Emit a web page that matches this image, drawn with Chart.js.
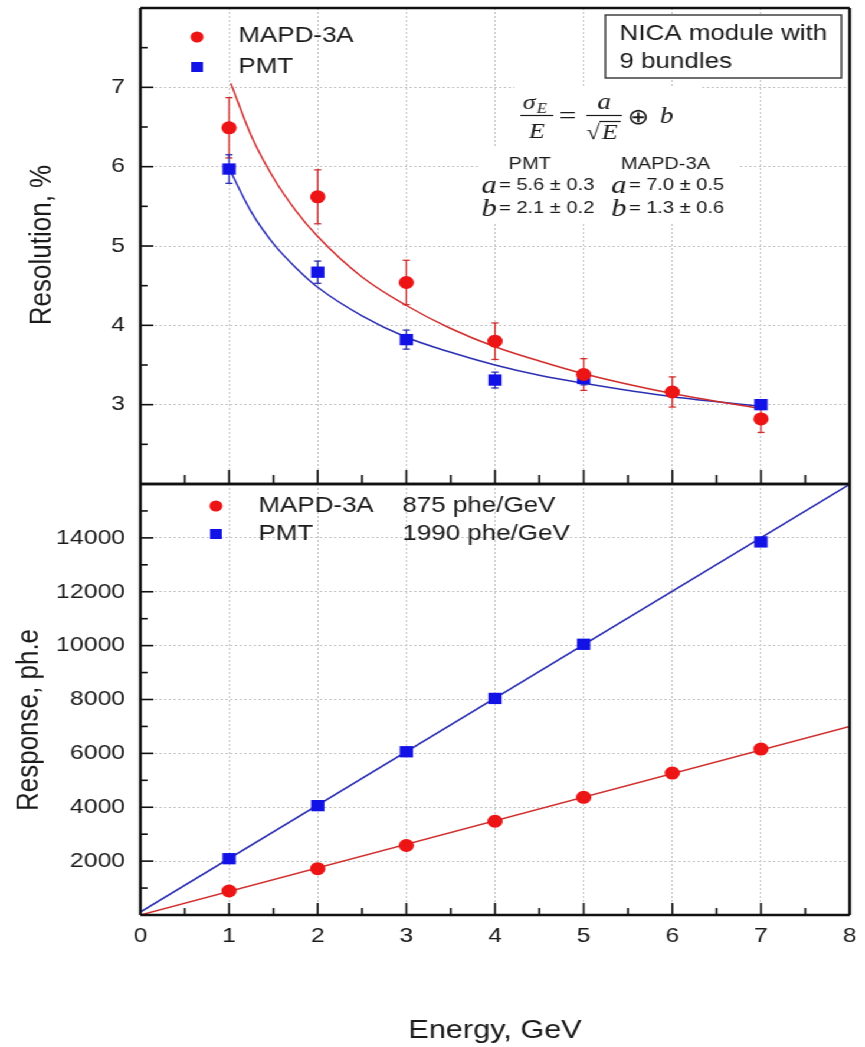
<!DOCTYPE html>
<html>
<head>
<meta charset="utf-8">
<script src="https://cdn.jsdelivr.net/npm/chart.js@4/dist/chart.umd.min.js"></script>
<style>
  html, body { margin: 0; padding: 0; background: #fff; }
  /* the source picture is stretched sideways, so the charts are too */
  #wrap { position: absolute; left: 0; top: 0; width: 733px; height: 1047px; transform: scaleX(1.18); transform-origin: 0 0; }
  canvas { position: absolute; left: 0; }
</style>
</head>
<body>
<div id="wrap">
  <canvas id="resChart" width="733" height="492" style="top:0"></canvas>
  <canvas id="respChart" width="733" height="571" style="top:476px"></canvas>
</div>
<script>
// Energy, GeV
const energy = [1, 2, 3, 4, 5, 6, 7];
const pmtEnergy = [1, 2, 3, 4, 5, 7];

// Resolution, %
const mapdRes = [6.49, 5.62, 4.54, 3.80, 3.38, 3.16, 2.82];
const mapdResErr = [0.38, 0.34, 0.28, 0.23, 0.20, 0.19, 0.17];
const pmtRes = [5.97, 4.67, 3.82, 3.31, 3.33, 3.00];
const pmtResErr = [0.18, 0.14, 0.12, 0.10, 0.08, 0.05];

// fit curves
const mapdFitE = [1.02, 1.25, 1.5, 1.75, 2, 2.5, 3, 3.5, 4, 4.5, 5, 6, 7];
const mapdFitRes = [7.05, 6.39, 5.86, 5.45, 5.12, 4.61, 4.25, 3.96, 3.73, 3.55, 3.39, 3.14, 2.95];
const pmtFitE = [1, 1.25, 1.5, 1.75, 2, 2.5, 3, 3.5, 4, 4.5, 5, 6, 7];
const pmtFitRes = [5.98, 5.43, 5.03, 4.73, 4.48, 4.12, 3.85, 3.66, 3.50, 3.37, 3.27, 3.10, 2.98];

// Response, ph.e
const mapdResp = [890, 1720, 2580, 3480, 4370, 5270, 6160];
const pmtResp = [2090, 4060, 6060, 8040, 10050, 13850];
const respFitE = [0, 8];
const mapdRespFit = [0, 7000];
const pmtRespFit = [110, 15990];

// ticks
const xTicks = [0, 1, 2, 3, 4, 5, 6, 7, 8];
const xMinor = [0.5, 1.5, 2.5, 3.5, 4.5, 5.5, 6.5, 7.5];
const resTicks = [3, 4, 5, 6, 7];
const resMinor = [2.5, 3.5, 4.5, 5.5, 6.5, 7.5];
const respTicks = [2000, 4000, 6000, 8000, 10000, 12000, 14000];
const respMinor = [1000, 3000, 5000, 7000, 9000, 11000, 13000, 15000];

const FONT = '"Liberation Sans", Arial, sans-serif';
const SERIF = '"Liberation Serif", "DejaVu Serif", serif';
const RED = '#ec1414';
const BLUE = '#1212e6';
const RED_FIT = '#d02c2c';
const BLUE_FIT = '#2a2eb0';

function pts(xs, ys) {
    return xs.map((v, i) => ({ x: v, y: ys[i] }));
}

function xScale(labels) {
    return {
        type: 'linear', min: 0, max: 8,
        afterBuildTicks: s => { s.ticks = xTicks.map(v => ({ value: v })); },
        afterFit: s => { s.height = labels ? 132 : 0; s.paddingLeft = 0; s.paddingRight = 0; },
        grid: { color: '#c4c4c4', drawTicks: false },
        border: { display: false, dash: [2, 2] },
        ticks: {
            display: labels, autoSkip: false, maxRotation: 0, padding: 9,
            color: '#1a1a1a', font: { family: FONT, size: 21 },
            callback: v => String(v)
        },
        title: {
            display: labels, text: 'Energy, GeV', color: '#1a1a1a',
            font: { family: FONT, size: 26 }, padding: { top: 0, bottom: 1 }
        }
    };
}

function yScale(min, max, ticks) {
    return {
        type: 'linear', min: min, max: max,
        afterBuildTicks: s => { s.ticks = ticks.map(v => ({ value: v })); },
        afterFit: s => { s.width = 119; s.paddingTop = 0; s.paddingBottom = 0; },
        grid: { color: '#c4c4c4', drawTicks: false },
        border: { display: false, dash: [2, 2] },
        ticks: {
            padding: 13, color: '#1a1a1a', font: { family: FONT, size: 21 },
            callback: v => String(v)
        }
    };
}

function line(ctx, x1, y1, x2, y2) {
    ctx.beginPath();
    ctx.moveTo(x1, y1);
    ctx.lineTo(x2, y2);
    ctx.stroke();
}

// black box round the plot with ticks pointing inwards
function framePlugin(yMajor, yMinor, xLen, yLen) {
    return {
        id: 'frame',
        afterDraw(chart) {
            const { ctx, chartArea: a, scales: { x, y } } = chart;
            ctx.save();
            ctx.setLineDash([]);
            ctx.strokeStyle = '#111';
            ctx.lineWidth = 1.6;
            xTicks.forEach(v => { const p = x.getPixelForValue(v); line(ctx, p, a.bottom, p, a.bottom - xLen[0]); });
            xMinor.forEach(v => { const p = x.getPixelForValue(v); line(ctx, p, a.bottom, p, a.bottom - xLen[1]); });
            yMajor.forEach(v => { const p = y.getPixelForValue(v); line(ctx, a.left, p, a.left + yLen[0], p); });
            yMinor.forEach(v => { const p = y.getPixelForValue(v); line(ctx, a.left, p, a.left + yLen[1], p); });
            ctx.lineWidth = 2.4;
            line(ctx, a.left, a.top, a.right, a.top);
            line(ctx, a.right, a.top, a.right, a.bottom);
            line(ctx, a.right, a.bottom, a.left, a.bottom);
            line(ctx, a.left, a.bottom, a.left, a.top);
            ctx.restore();
        }
    };
}

function marker(ctx, kind, cx, cy, r, color) {
    ctx.fillStyle = color;
    ctx.beginPath();
    if (kind === 'circle') ctx.arc(cx, cy, r, 0, Math.PI * 2);
    else ctx.rect(cx - r, cy - r, 2 * r, 2 * r);
    ctx.fill();
}

function text(ctx, str, x, y, font, align) {
    ctx.font = font;
    ctx.textAlign = align || 'left';
    ctx.textBaseline = 'middle';
    ctx.fillText(str, x, y);
}

function sideTitle(ctx, str, x, y) {
    ctx.save();
    ctx.translate(x, y);
    ctx.rotate(-Math.PI / 2);
    ctx.fillStyle = '#1a1a1a';
    text(ctx, str, 0, 0, '26px ' + FONT, 'center');
    ctx.restore();
}

// error bars + white patches behind the formula
const resExtras = {
    id: 'resExtras',
    beforeDatasetsDraw(chart) {
        const { ctx, scales: { x, y } } = chart;
        ctx.save();
        ctx.setLineDash([]);
        ctx.fillStyle = '#fff';
        ctx.fillRect(436, 87, 157, 60);
        ctx.fillRect(405, 147, 220, 75);
        const sets = [
            [energy, mapdRes, mapdResErr, RED_FIT],
            [pmtEnergy, pmtRes, pmtResErr, BLUE_FIT]
        ];
        ctx.lineWidth = 1.3;
        sets.forEach(([xs, ys, es, col]) => {
            ctx.strokeStyle = col;
            xs.forEach((v, i) => {
                const px = x.getPixelForValue(v);
                const top = y.getPixelForValue(ys[i] + es[i]);
                const bot = y.getPixelForValue(ys[i] - es[i]);
                line(ctx, px, top, px, bot);
                line(ctx, px - 3, top, px + 3, top);
                line(ctx, px - 3, bot, px + 3, bot);
            });
        });
        ctx.restore();
    },
    afterDraw(chart) {
        const ctx = chart.ctx;
        ctx.save();
        ctx.setLineDash([]);
        ctx.fillStyle = '#1a1a1a';
        sideTitle(ctx, 'Resolution, %', 36, 245);

        // legend
        marker(ctx, 'circle', 167, 37, 5.5, RED);
        marker(ctx, 'rect', 167, 67, 5, BLUE);
        ctx.fillStyle = '#1a1a1a';
        text(ctx, 'MAPD-3A', 202, 36, '22px ' + FONT);
        text(ctx, 'PMT', 202, 67, '22px ' + FONT);

        // NICA box
        ctx.fillStyle = '#fff';
        ctx.fillRect(513, 15, 200, 63);
        ctx.strokeStyle = '#333';
        ctx.lineWidth = 1.4;
        ctx.strokeRect(513, 15, 200, 63);
        ctx.fillStyle = '#1a1a1a';
        text(ctx, 'NICA module with', 525, 34, '22px ' + FONT);
        text(ctx, '9 bundles', 525, 62, '22px ' + FONT);

        // sigma_E / E = a / sqrt(E) (+) b
        ctx.strokeStyle = '#1a1a1a';
        ctx.lineWidth = 1.2;
        ctx.font = 'italic 22px ' + SERIF;
        ctx.textBaseline = 'alphabetic';
        ctx.textAlign = 'left';
        ctx.fillText('σ', 443, 109);
        ctx.font = 'italic 14px ' + SERIF;
        ctx.fillText('E', 455, 113);
        line(ctx, 441, 115.5, 469, 115.5);
        ctx.font = 'italic 22px ' + SERIF;
        ctx.textAlign = 'center';
        ctx.fillText('E', 455, 138);
        ctx.font = '26px ' + SERIF;
        ctx.fillText('=', 481, 124);
        ctx.font = 'italic 23px ' + SERIF;
        ctx.fillText('a', 512, 109);
        line(ctx, 497, 115.5, 527, 115.5);
        ctx.font = '21px ' + SERIF;
        ctx.textAlign = 'left';
        ctx.fillText('√', 497, 139);
        ctx.font = 'italic 22px ' + SERIF;
        ctx.fillText('E', 510, 139);
        line(ctx, 508, 121.5, 526, 121.5);
        ctx.font = '22px "DejaVu Sans", sans-serif';
        ctx.textAlign = 'center';
        ctx.fillText('⊕', 541, 124);
        ctx.font = 'italic 23px ' + SERIF;
        ctx.fillText('b', 565, 123);

        // fit parameters
        text(ctx, 'PMT', 449, 164, '17px ' + FONT, 'center');
        text(ctx, 'MAPD-3A', 564, 164, '17px ' + FONT, 'center');
        const rows = [['a', '= 5.6 ± 0.3', '= 7.0 ± 0.5', 185], ['b', '= 2.1 ± 0.2', '= 1.3 ± 0.6', 208]];
        rows.forEach(([sym, p, m, yy]) => {
            text(ctx, sym, 408, yy + 1, 'italic 26px ' + SERIF);
            text(ctx, p, 423, yy, '17px ' + FONT);
            text(ctx, sym, 518, yy + 1, 'italic 26px ' + SERIF);
            text(ctx, m, 533, yy, '17px ' + FONT);
        });
        ctx.restore();
    }
};

const respExtras = {
    id: 'respExtras',
    afterDraw(chart) {
        const ctx = chart.ctx;
        ctx.save();
        sideTitle(ctx, 'Response, ph.e', 25, 244);
        marker(ctx, 'circle', 183, 30, 5.5, RED);
        marker(ctx, 'rect', 183, 58, 5, BLUE);
        ctx.fillStyle = '#1a1a1a';
        text(ctx, 'MAPD-3A', 219, 30, '22px ' + FONT);
        text(ctx, 'PMT', 219, 58, '22px ' + FONT);
        text(ctx, '875 phe/GeV', 341, 30, '22px ' + FONT);
        text(ctx, '1990 phe/GeV', 341, 58, '22px ' + FONT);
        ctx.restore();
    }
};

const common = {
    responsive: false,
    animation: false,
    devicePixelRatio: 1,
    plugins: { legend: { display: false }, tooltip: { enabled: false } }
};

// Resolution panel
new Chart(document.getElementById('resChart'), {
    type: 'scatter',
    data: {
        datasets: [{
            data: pts(energy, mapdRes),
            pointStyle: 'circle', pointRadius: 6.5, backgroundColor: RED, borderWidth: 0
        }, {
            data: pts(pmtEnergy, pmtRes),
            pointStyle: 'rect', pointRadius: 8, backgroundColor: BLUE, borderWidth: 0
        }, {
            data: pts(mapdFitE, mapdFitRes),
            showLine: true, pointRadius: 0, borderColor: RED_FIT, borderWidth: 1.5,
            cubicInterpolationMode: 'monotone'
        }, {
            data: pts(pmtFitE, pmtFitRes),
            showLine: true, pointRadius: 0, borderColor: BLUE_FIT, borderWidth: 1.5,
            cubicInterpolationMode: 'monotone'
        }]
    },
    options: Object.assign({}, common, {
        layout: { padding: { left: 0, top: 7, right: 13, bottom: 1 } },
        scales: { x: xScale(false), y: yScale(2, 8, resTicks) }
    }),
    plugins: [resExtras, framePlugin(resTicks, resMinor, [14, 9], [11, 6])]
});

// Response panel
new Chart(document.getElementById('respChart'), {
    type: 'scatter',
    data: {
        datasets: [{
            data: pts(energy, mapdResp),
            pointStyle: 'circle', pointRadius: 6.5, backgroundColor: RED, borderWidth: 0
        }, {
            data: pts(pmtEnergy, pmtResp),
            pointStyle: 'rect', pointRadius: 8, backgroundColor: BLUE, borderWidth: 0
        }, {
            data: pts(respFitE, mapdRespFit),
            showLine: true, pointRadius: 0, borderColor: RED_FIT, borderWidth: 1.5
        }, {
            data: pts(respFitE, pmtRespFit),
            showLine: true, pointRadius: 0, borderColor: BLUE_FIT, borderWidth: 1.5
        }]
    },
    options: Object.assign({}, common, {
        layout: { padding: { left: 0, top: 7, right: 13, bottom: 0 } },
        scales: { x: xScale(true), y: yScale(0, 16000, respTicks) }
    }),
    plugins: [respExtras, framePlugin(respTicks, respMinor, [12, 7], [11, 6])]
});
</script>
</body>
</html>
